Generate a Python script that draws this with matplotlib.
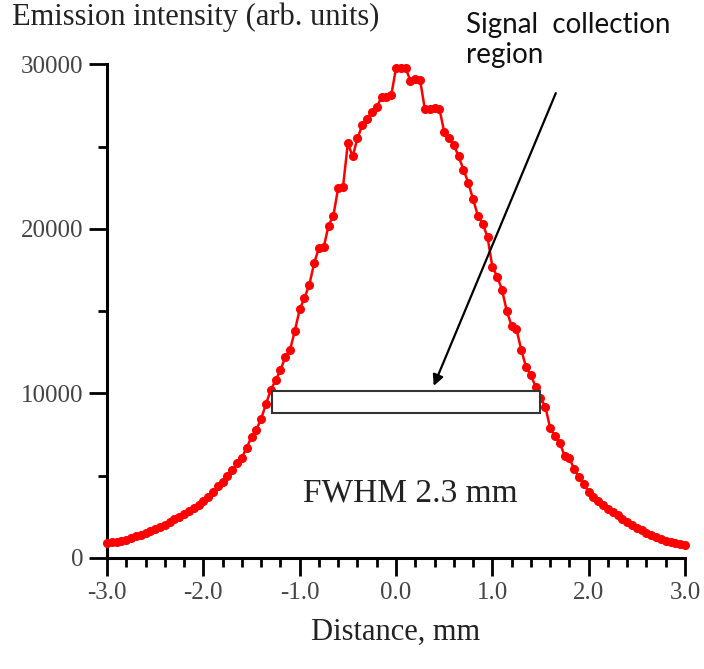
import numpy as np
import matplotlib
matplotlib.use("Agg")
import matplotlib.pyplot as plt
from matplotlib.patches import Rectangle
from matplotlib.ticker import MultipleLocator

# emission profile, step 0.05 mm from -3.0 to 3.0
intensity = [
    900, 940, 990, 1040, 1120, 1220, 1320, 1420, 1530, 1640,
    1750, 1880, 2030, 2180, 2340, 2500, 2670, 2850, 3030, 3220,
    3450, 3700, 4000, 4350, 4600, 4950, 5340, 5750, 6100, 6700,
    7350, 7800, 8450, 9350, 10200, 10800, 11400, 12200, 12650, 13800,
    15100, 15800, 16600, 17900, 18850, 18900, 20200, 20800, 22500, 22550,
    25200, 24400, 25500, 26300, 26700, 27100, 27400, 28000, 28000, 28100,
    29750, 29750, 29750, 29000, 29100, 29050, 27250, 27300, 27350, 27300,
    25900, 25500, 25100, 24400, 23600, 22800, 21800, 20800, 20300, 19500,
    17700, 17100, 16300, 15000, 14100, 13900, 12650, 11600, 11100, 10400,
    9700, 9200, 7900, 7400, 7000, 6200, 6050, 5400, 4900, 4500,
    4000, 3700, 3450, 3200, 3000, 2800, 2580, 2350, 2170, 2000,
    1830, 1680, 1530, 1380, 1260, 1140, 1050, 970, 900, 840,
    790,
]
distance = np.linspace(-3.0, 3.0, len(intensity))

# signal collection window and arrow
box_x = [-1.29, 1.50]
box_y = [8800, 10150]
arrow_start = (1.67, 28400)
arrow_end = (0.38, 10300)

xticks = [-3.0, -2.0, -1.0, 0.0, 1.0, 2.0, 3.0]
yticks = [0, 10000, 20000, 30000]

serif = "Liberation Serif"

fig = plt.figure(figsize=(7.04, 6.69), dpi=100)
ax = fig.add_axes([0.152, 0.166, 0.821, 0.738])

ax.plot(distance, intensity, color="red", lw=1.8, marker="o", ms=5.5,
        clip_on=False, zorder=3)

ax.add_patch(Rectangle((box_x[0], box_y[0]), box_x[1] - box_x[0], box_y[1] - box_y[0],
                       facecolor="white", edgecolor="#333333", lw=1.5, zorder=4))

ax.annotate("", xy=arrow_end, xytext=arrow_start,
            arrowprops=dict(arrowstyle="-|>", color="black", lw=1.6, mutation_scale=16),
            zorder=5)

ax.text(0.15, 3950, "FWHM 2.3 mm", fontsize=24, family=serif, color="#222222",
        ha="center", va="center")

ax.set_xlim(-3.0, 3.0)
ax.set_ylim(0, 30000)
ax.set_xticks(xticks)
ax.set_xticklabels(["%.1f" % v for v in xticks])
ax.set_yticks(yticks)
ax.set_yticklabels([str(v) for v in yticks])
ax.xaxis.set_minor_locator(MultipleLocator(0.2))
ax.yaxis.set_minor_locator(MultipleLocator(5000))

for side in ["top", "right"]:
    ax.spines[side].set_visible(False)
for side in ["left", "bottom"]:
    ax.spines[side].set_linewidth(2.2)

ax.tick_params(which="major", length=13, width=2.0, direction="out", pad=4)
ax.tick_params(which="minor", length=6.5, width=2.0, direction="out")
for lab in ax.get_xticklabels() + ax.get_yticklabels():
    lab.set_family(serif)
    lab.set_fontsize(18)
    lab.set_color("#444444")

ax.set_xlabel("Distance, mm", family=serif, fontsize=22, color="#222222", labelpad=10)

fig.text(0.017, 0.997, "Emission intensity (arb. units)", family=serif, fontsize=22,
         color="#222222", ha="left", va="top")
fig.text(0.662, 0.982, "Signal  collection\nregion", family="Lato", fontsize=20,
         color="#111111", ha="left", va="top", linespacing=1.2)

fig.savefig("out.png", dpi=100)
